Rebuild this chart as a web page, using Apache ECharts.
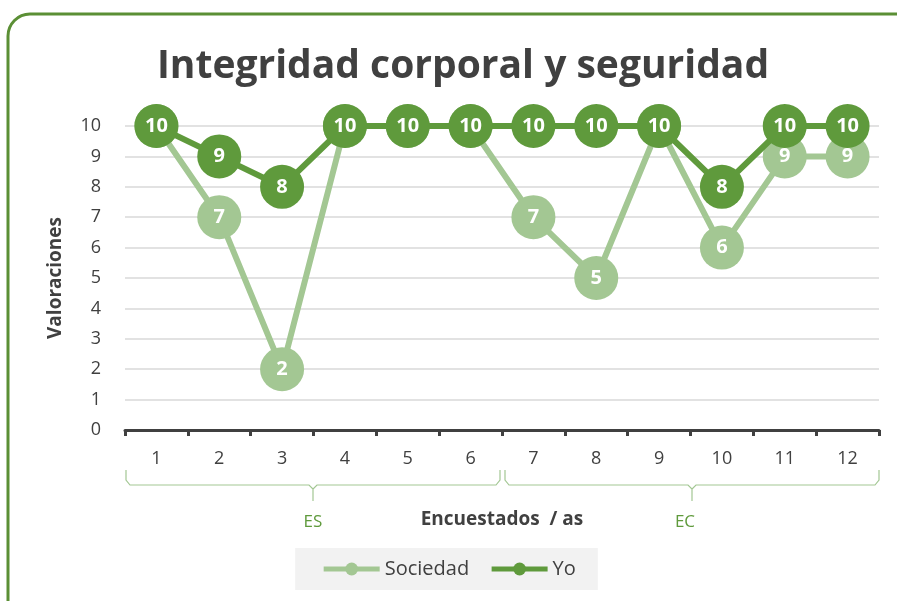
<!DOCTYPE html>
<html>
<head>
<meta charset="utf-8">
<script src="https://cdn.jsdelivr.net/npm/echarts@6/dist/echarts.min.js"></script>
<style>
  html, body { margin: 0; padding: 0; background: #fff; }
  #main { width: 897px; height: 601px; }
</style>
</head>
<body>
<div id="main"></div>
<script>
    // datos
    var categorias = ['1', '2', '3', '4', '5', '6', '7', '8', '9', '10', '11', '12'];
    var sociedad = [10, 7, 2, 10, 10, 10, 7, 5, 10, 6, 9, 9];
    var yo = [10, 9, 8, 10, 10, 10, 10, 10, 10, 8, 10, 10];
    var grupos = ['ES', 'EC'];

    var verdeOscuro = '#5f9a3c';
    var verdeClaro = '#a3c793';
    var gris = '#404040';
    var fuente = '"Open Sans", "Noto Sans", sans-serif';

    var myChart = echarts.init(document.getElementById('main'));

    // llaves de los grupos debajo del eje
    function llave(x1, x2) {
        var xm = (x1 + x2) / 2, y = 485;
        return {
            type: 'polyline',
            shape: { points: [[x1, 470], [x1, 480], [x1 + 4, y], [xm - 4, y], [xm, y + 4], [xm, y + 16],
                              [xm, y + 4], [xm + 4, y], [x2 - 4, y], [x2, 480], [x2, 470]] },
            style: { stroke: verdeClaro, lineWidth: 1.2, fill: null }
        };
    }

    var option = {
        textStyle: { fontFamily: fuente },
        title: {
            text: 'Integridad corporal y seguridad',
            left: 458,
            textAlign: 'center',
            top: 42,
            textStyle: { fontSize: 39, fontWeight: 'bold', color: gris, fontFamily: fuente }
        },
        grid: { left: 125, right: 18, top: 126, bottom: 171 },
        legend: {
            bottom: 11,
            left: 'center',
            backgroundColor: '#f2f2f2',
            padding: [11, 22, 11, 26],
            itemWidth: 56,
            itemHeight: 16,
            itemGap: 20,
            lineStyle: { width: 5 },
            textStyle: { fontSize: 20, color: gris },
            data: ['Sociedad', 'Yo']
        },
        xAxis: {
            type: 'category',
            data: categorias,
            name: 'Encuestados  / as',
            nameLocation: 'middle',
            nameGap: 80,
            nameTextStyle: { fontSize: 19, fontWeight: 'bold', color: gris },
            axisLine: { lineStyle: { color: gris, width: 3 } },
            axisTick: { show: true, length: 6, lineStyle: { color: gris, width: 3 } },
            axisLabel: { fontSize: 18, color: gris, margin: 20 },
            splitLine: { show: false }
        },
        yAxis: {
            type: 'value',
            min: 0,
            max: 10,
            interval: 1,
            name: 'Valoraciones',
            nameLocation: 'middle',
            nameGap: 60,
            nameTextStyle: { fontSize: 19, fontWeight: 'bold', color: gris },
            axisLine: { show: false },
            axisTick: { show: false },
            axisLabel: { fontSize: 18, color: gris, margin: 24 },
            splitLine: { lineStyle: { color: '#d9d9d9', width: 1.5 } }
        },
        series: [{
            name: 'Sociedad',
            type: 'line',
            data: sociedad,
            symbol: 'circle',
            symbolSize: 44,
            color: verdeClaro,
            lineStyle: { width: 6, color: verdeClaro },
            itemStyle: { color: verdeClaro },
            label: { show: true, position: 'inside', color: '#fff', fontSize: 20, fontWeight: 'bold' },
            z: 2
        }, {
            name: 'Yo',
            type: 'line',
            data: yo,
            symbol: 'circle',
            symbolSize: 44,
            color: verdeOscuro,
            lineStyle: { width: 6, color: verdeOscuro },
            itemStyle: { color: verdeOscuro },
            label: { show: true, position: 'inside', color: '#fff', fontSize: 20, fontWeight: 'bold' },
            z: 3
        }],
        graphic: [
            {
                type: 'rect',
                shape: { x: 8, y: 14, width: 920, height: 620, r: 22 },
                style: { stroke: '#5b8f35', lineWidth: 3, fill: null },
                silent: true
            },
            llave(126, 500),
            llave(505, 879),
            { type: 'text', x: 313, y: 522, style: { text: grupos[0], fill: verdeOscuro, fontSize: 17, fontFamily: fuente, align: 'center', verticalAlign: 'middle' } },
            { type: 'text', x: 685, y: 522, style: { text: grupos[1], fill: verdeOscuro, fontSize: 17, fontFamily: fuente, align: 'center', verticalAlign: 'middle' } }
        ]
    };

    myChart.setOption(option);
</script>
</body>
</html>
